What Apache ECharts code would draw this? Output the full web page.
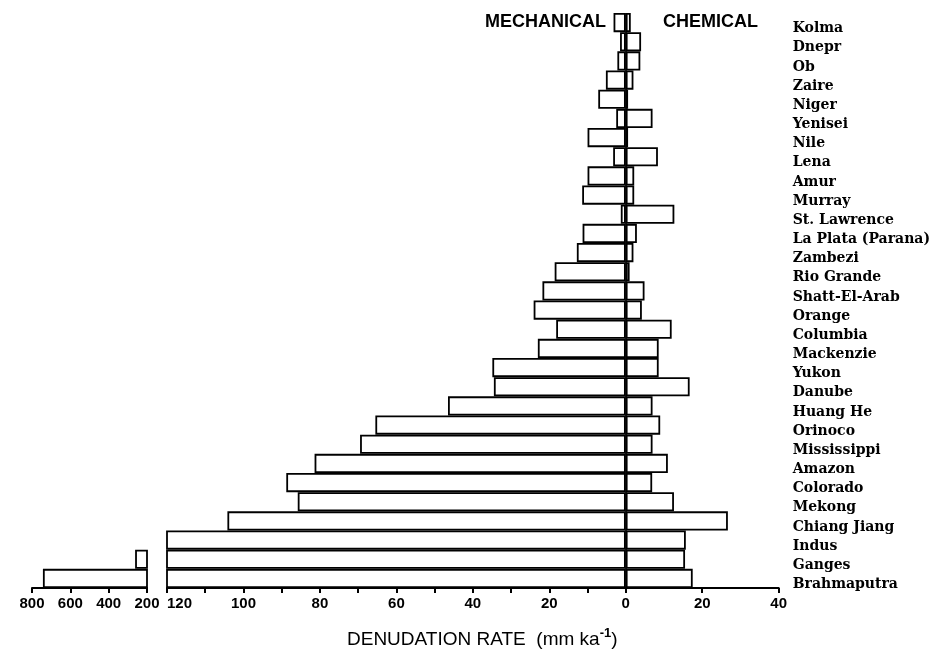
<!DOCTYPE html>
<html>
<head>
<meta charset="utf-8">
<title>Denudation rate of major rivers</title>
<script src="https://cdn.jsdelivr.net/npm/echarts@6/dist/echarts.min.js"></script>
<style>
  html, body { margin: 0; padding: 0; background: #fff; }
  #chart { width: 933px; height: 657px; }
</style>
</head>
<body>
<div id="chart"></div>
<script>
// rivers, top to bottom
const rivers = [
  "Kolma", "Dnepr", "Ob", "Zaire", "Niger", "Yenisei", "Nile", "Lena", "Amur",
  "Murray", "St. Lawrence", "La Plata (Parana)", "Zambezi", "Rio Grande",
  "Shatt-El-Arab", "Orange", "Columbia", "Mackenzie", "Yukon", "Danube",
  "Huang He", "Orinoco", "Mississippi", "Amazon", "Colorado", "Mekong",
  "Chiang Jiang", "Indus", "Ganges", "Brahmaputra"
];
// mechanical denudation rate (mm/ka), drawn to the left of zero
const mechanical = [
  3.2, 1.5, 2.2, 5.2, 7.2, 2.5, 10.0, 3.3, 10.0,
  11.4, 1.3, 11.3, 12.8, 18.6,
  21.8, 24.1, 18.2, 23.0, 34.9, 34.5,
  46.5, 65.5, 69.5, 81.4, 88.8, 85.8,
  104.2, 150, 262, 743
];
// chemical denudation rate (mm/ka), drawn to the right of zero
const chemical = [
  1.3, 4.0, 3.8, 2.0, 0.6, 7.0, 0.6, 8.4, 2.2,
  2.2, 12.7, 2.9, 2.0, 1.0,
  4.9, 4.2, 12.0, 8.6, 8.6, 16.7,
  7.0, 9.0, 7.0, 11.0, 6.9, 12.6,
  26.7, 15.7, 15.5, 17.5
];
// tick labels of the two axis pieces
const brokenTicks = [800, 600, 400, 200];
const mainLabels = [-120, -100, -80, -60, -40, -20, 0, 20, 40];
const mainTicks = [-120, -110, -100, -90, -80, -70, -60, -50, -40, -30, -20, -10, 0, 20, 40];

const chart = echarts.init(document.getElementById("chart"), null, { renderer: "canvas" });

const axisFont = { fontFamily: "Liberation Sans", fontSize: 15, fontWeight: "bold", color: "#000" };
const boxStyle = { color: "#fff", borderColor: "#000", borderWidth: 1.8 };
const lineStyle = { color: "#000", width: 2 };

const option = {
  animation: false,
  backgroundColor: "#fff",
  grid: [
    { left: 32, width: 115, top: 13, height: 575 },
    { left: 167, width: 612, top: 13, height: 575 }
  ],
  xAxis: [
    {
      gridIndex: 0,
      type: "value",
      inverse: true,
      min: 200,
      max: 800,
      interval: 200,
      splitLine: { show: false },
      axisLine: { show: true, lineStyle: lineStyle },
      axisTick: { show: true, length: 5, lineStyle: lineStyle, customValues: brokenTicks },
      axisLabel: Object.assign({ margin: 8, customValues: brokenTicks }, axisFont)
    },
    {
      gridIndex: 1,
      type: "value",
      min: -120,
      max: 40,
      interval: 10,
      splitLine: { show: false },
      axisLine: { show: true, onZero: false, lineStyle: lineStyle },
      axisTick: { show: true, length: 5, lineStyle: lineStyle, customValues: mainTicks },
      axisLabel: Object.assign({
        margin: 8,
        customValues: mainLabels,
        alignMinLabel: "left",
        formatter: (v) => String(Math.abs(v))
      }, axisFont)
    }
  ],
  yAxis: [
    {
      gridIndex: 0,
      type: "category",
      data: rivers,
      inverse: true,
      show: false
    },
    {
      gridIndex: 1,
      type: "category",
      data: rivers,
      inverse: true,
      position: "right",
      axisLine: { show: false },
      axisTick: { show: false },
      axisLabel: {
        margin: 14,
        fontFamily: "DejaVu Serif",
        fontSize: 14,
        fontWeight: "bold",
        color: "#000",
        // names sit a little below the middle of each row in the original
        verticalAlign: "top",
        lineHeight: 12
      }
    }
  ],
  series: [
    {
      // mechanical values above 200 on the broken piece
      type: "bar",
      xAxisIndex: 0,
      yAxisIndex: 0,
      data: mechanical,
      barCategoryGap: 0,
      itemStyle: boxStyle,
      clip: true
    },
    {
      type: "bar",
      name: "Mechanical",
      xAxisIndex: 1,
      yAxisIndex: 1,
      data: mechanical.map((v) => -v),
      barCategoryGap: 0,
      barGap: "-100%",
      itemStyle: boxStyle,
      clip: true
    },
    {
      type: "bar",
      name: "Chemical",
      xAxisIndex: 1,
      yAxisIndex: 1,
      data: chemical,
      barCategoryGap: 0,
      barGap: "-100%",
      itemStyle: boxStyle,
      clip: true,
      markLine: {
        silent: true,
        symbol: "none",
        label: { show: false },
        lineStyle: { color: "#000", width: 1.5, type: "solid" },
        data: [{ xAxis: 0 }]
      }
    }
  ],
  graphic: [
    {
      type: "text",
      right: 933 - 606,
      top: 13,
      style: { text: "MECHANICAL", font: "bold 18px 'Liberation Sans'", fill: "#000" }
    },
    {
      type: "text",
      left: 663,
      top: 13,
      style: { text: "CHEMICAL", font: "bold 18px 'Liberation Sans'", fill: "#000" }
    },
    {
      type: "text",
      left: 347,
      top: 627,
      style: {
        text: "{t|DENUDATION RATE  (mm ka}{s|-1}{t|)}",
        rich: {
          t: { fontFamily: "Liberation Sans", fontSize: 19, fill: "#000", verticalAlign: "bottom" },
          s: { fontFamily: "Liberation Sans", fontSize: 13, fontWeight: "bold", fill: "#000", verticalAlign: "top", padding: [0, 0, 9, 0] }
        }
      }
    }
  ]
};

chart.setOption(option);
</script>
</body>
</html>
